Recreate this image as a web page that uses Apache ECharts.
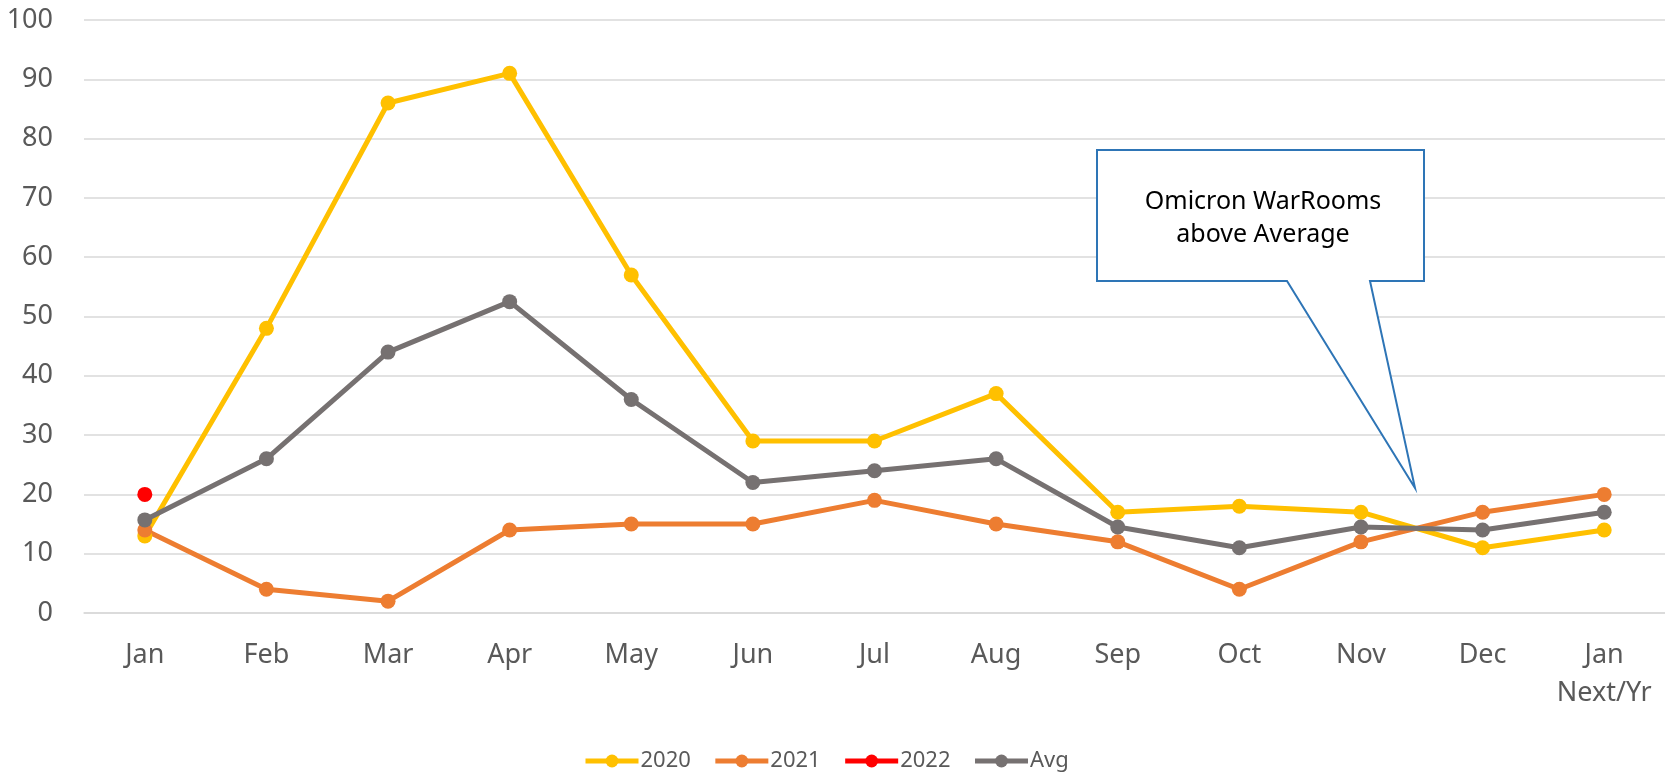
<!DOCTYPE html>
<html>
<head>
<meta charset="utf-8">
<script src="https://cdn.jsdelivr.net/npm/echarts@6/dist/echarts.min.js"></script>
<style>
html,body{margin:0;padding:0;background:#fff;}
#chart{width:1665px;height:772px;}
</style>
</head>
<body>
<div id="chart"></div>
<script>
const categories = ['Jan','Feb','Mar','Apr','May','Jun','Jul','Aug','Sep','Oct','Nov','Dec','Jan\nNext/Yr'];
const yTicks = [0,10,20,30,40,50,60,70,80,90,100];
const s2020 = [13,48,86,91,57,29,29,37,17,18,17,11,14];
const s2021 = [14,4,2,14,15,15,19,15,12,4,12,17,20];
const s2022 = [20,null,null,null,null,null,null,null,null,null,null,null,null];
const sAvg = [15.7,26,44,52.5,36,22,24,26,14.5,11,14.5,14,17];
const calloutLines = ['Omicron WarRooms','above Average'];

const FONT = '"Noto Sans", "Open Sans", sans-serif';
function lineSeries(name, data, color) {
  return {
    name: name, type: 'line', data: data,
    symbol: 'circle', symbolSize: 15, showAllSymbol: true,
    lineStyle: {color: color, width: 5},
    itemStyle: {color: color},
    connectNulls: false, animation: false
  };
}

const chart = echarts.init(document.getElementById('chart'), null, {renderer: 'canvas'});
chart.setOption({
  animation: false,
  backgroundColor: '#fff',
  textStyle: {fontFamily: FONT},
  grid: {left: 84, right: 0, top: 20, bottom: 159, containLabel: false},
  legend: {
    left: 578, top: 745,
    itemWidth: 53, itemHeight: 16, itemGap: 22,
    lineStyle: {width: 5},
    textStyle: {fontFamily: FONT, fontSize: 22, color: '#595959', padding: [0,0,0,-3]},
    data: ['2020','2021','2022','Avg']
  },
  xAxis: {
    type: 'category', data: categories, boundaryGap: true,
    axisLine: {lineStyle: {color: '#D9D9D9', width: 1.5}},
    axisTick: {show: false},
    axisLabel: {fontFamily: FONT, fontSize: 27, color: '#595959', margin: 23, lineHeight: 38, interval: 0}
  },
  yAxis: {
    type: 'value', min: 0, max: 100, interval: 10,
    axisLine: {show: false}, axisTick: {show: false},
    splitLine: {lineStyle: {color: '#D9D9D9', width: 1.5}},
    axisLabel: {fontFamily: FONT, fontSize: 27, color: '#595959', margin: 31,
      formatter: function(v){ return yTicks.indexOf(v) >= 0 ? String(v) : ''; }}
  },
  series: [
    lineSeries('2020', s2020, '#FFC000'),
    lineSeries('2021', s2021, '#ED7D31'),
    lineSeries('2022', s2022, '#FF0000'),
    lineSeries('Avg', sAvg, '#767171')
  ],
  graphic: [
    {
      type: 'polygon', z: 100,
      shape: {points: [[1097,150],[1424,150],[1424,281],[1370,281],[1415,488],[1287,281],[1097,281]]},
      style: {fill: '#fff', stroke: '#2E75B6', lineWidth: 2}
    },
    {
      type: 'text', z: 101,
      style: {
        text: calloutLines[0], x: 1263, y: 202,
        font: '25px ' + FONT, fill: '#000', align: 'center', verticalAlign: 'middle'
      }
    },
    {
      type: 'text', z: 101,
      style: {
        text: calloutLines[1], x: 1263, y: 235,
        font: '25px ' + FONT, fill: '#000', align: 'center', verticalAlign: 'middle'
      }
    }
  ]
});
</script>
</body>
</html>
